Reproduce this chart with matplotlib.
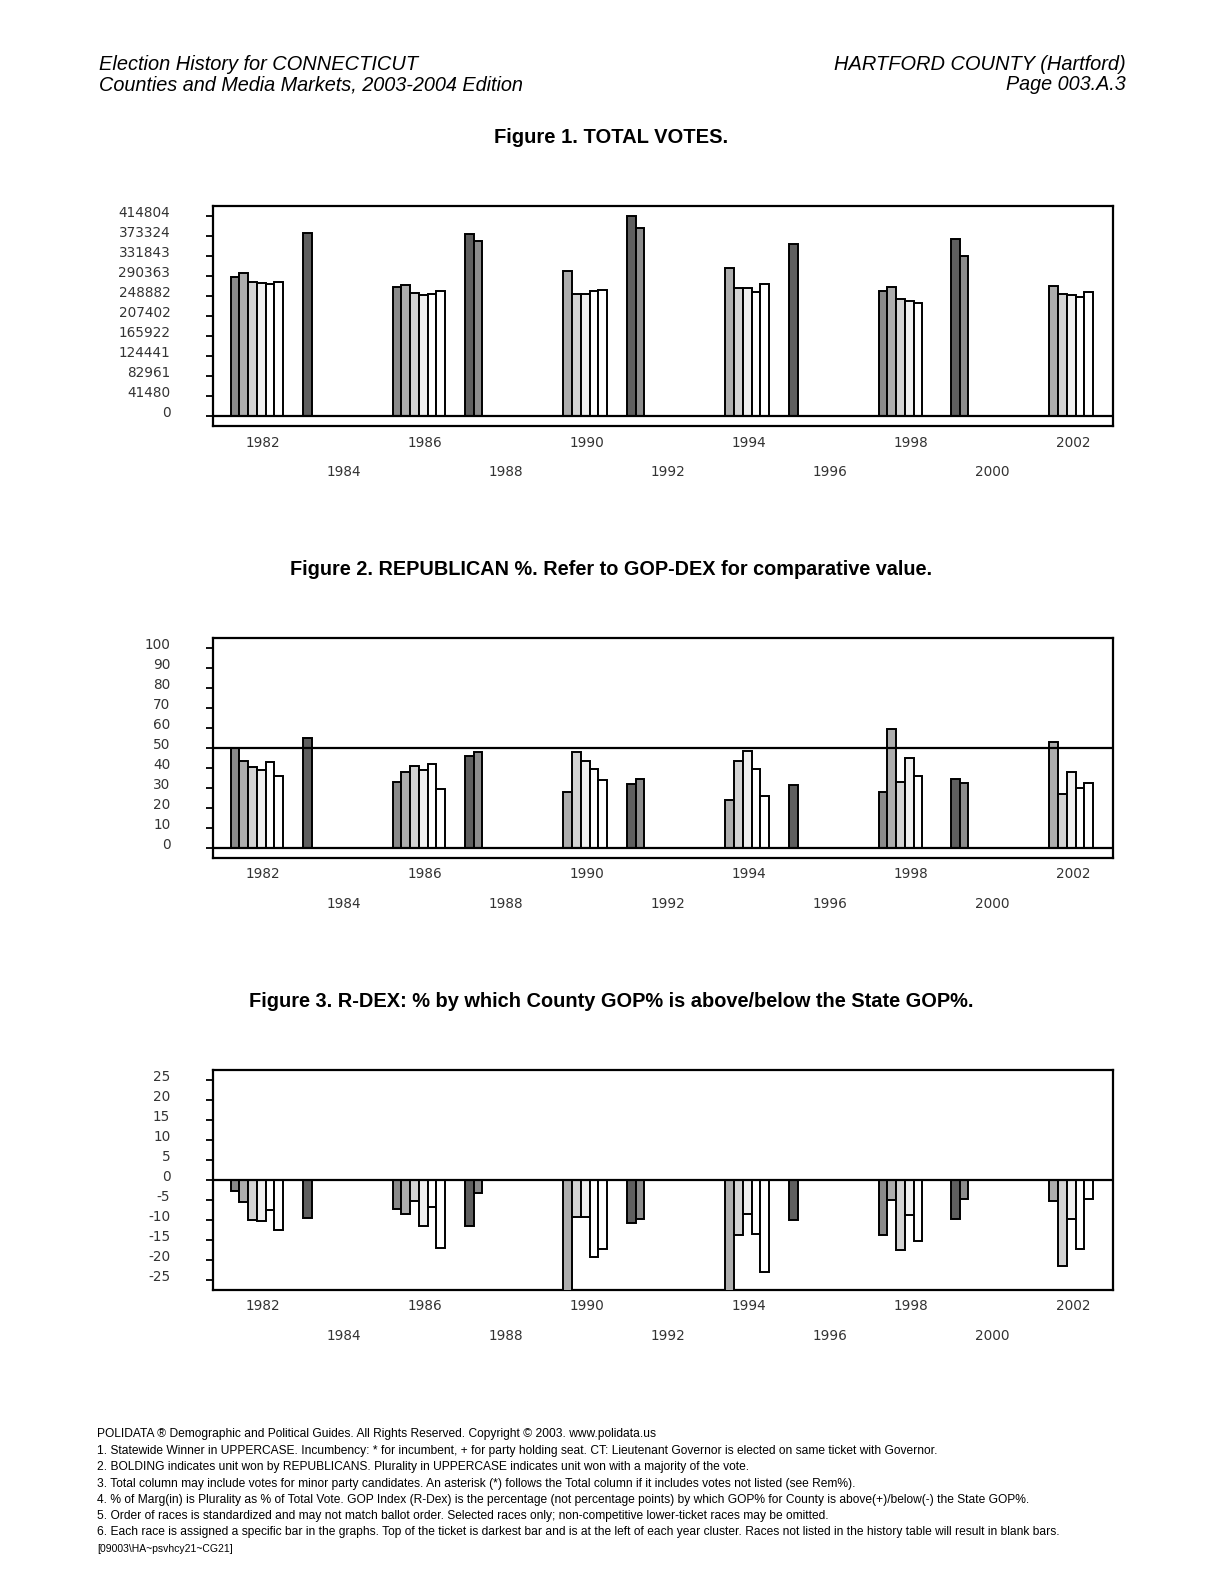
import matplotlib
matplotlib.use('Agg')
import matplotlib.pyplot as plt
from matplotlib import font_manager
from matplotlib.transforms import ScaledTranslation

# ---------------- data ----------------
years = [1982, 1984, 1986, 1988, 1990, 1992, 1994, 1996, 1998, 2000, 2002]
gov_years = [1982, 1986, 1990, 1994, 1998, 2002]
pres_years = [1984, 1988, 1992, 1996, 2000]

# Figure 1: total votes per race slot (None = blank bar)
total_votes = [
    [287700, 296000, 278500, 276500, 274400, 278500],
    [378900],
    [266900, 271100, 255700, 251600, 253700, 258600],
    [376900, 362300],
    [None, 300100, 253000, 253000, 258600, 260700],
    [415500, 390600],
    [None, 307700, 264800, 264800, 257900, 274400],
    [357500],
    [258600, 268200, 242700, 239200, 235100, None],
    [367800, 332500],
    [None, 270300, 253700, 251700, 247500, 256500],
]
votes_ticks = [0, 41480, 82961, 124441, 165922, 207402, 248882, 290363, 331843, 373324, 414804]

# Figure 2: Republican %
gop_pct = [
    [49.7, 43.5, 40.5, 39.0, 42.7, 36.0],
    [55.0],
    [32.7, 37.7, 41.0, 39.0, 42.0, 29.5],
    [46.0, 47.7],
    [None, 27.7, 47.7, 43.2, 39.5, 33.7],
    [32.0, 34.5],
    [None, 23.7, 43.2, 48.5, 39.5, 26.0],
    [31.5],
    [28.0, 59.5, 33.0, 44.7, 36.0, None],
    [34.5, 32.5],
    [None, 53.0, 26.8, 37.7, 30.0, 32.5],
]
pct_ticks = [0, 10, 20, 30, 40, 50, 60, 70, 80, 90, 100]

# Figure 3: R-DEX
rdex = [
    [-2.8, -5.5, -10.0, -10.3, -7.5, -12.5],
    [-9.6],
    [-7.3, -8.6, -5.4, -11.5, -6.9, -17.0],
    [-11.6, -3.3],
    [None, -30.0, -9.4, -9.4, -19.3, -17.4],
    [-10.8, -9.8],
    [None, -30.0, -13.8, -8.6, -13.6, -23.0],
    [-10.0],
    [-13.8, -5.0, -17.6, -8.8, -15.3, None],
    [-9.8, -4.7],
    [None, -5.3, -21.6, -9.8, -17.3, -4.8],
]
rdex_ticks = [-25, -20, -15, -10, -5, 0, 5, 10, 15, 20, 25]

header_left = ["Election History for CONNECTICUT",
               "Counties and Media Markets, 2003-2004 Edition"]
header_right = ["HARTFORD COUNTY (Hartford)", "Page 003.A.3"]
titles = ["Figure 1. TOTAL VOTES.",
          "Figure 2. REPUBLICAN %. Refer to GOP-DEX for comparative value.",
          "Figure 3. R-DEX: % by which County GOP% is above/below the State GOP%."]
footer = [
    "POLIDATA \u00ae Demographic and Political Guides. All Rights Reserved. Copyright \u00a9 2003. www.polidata.us",
    "1. Statewide Winner in UPPERCASE. Incumbency: * for incumbent, + for party holding seat. CT: Lieutenant Governor is elected on same ticket with Governor.",
    "2. BOLDING indicates unit won by REPUBLICANS. Plurality in UPPERCASE indicates unit won with a majority of the vote.",
    "3. Total column may include votes for minor party candidates. An asterisk (*) follows the Total column if it includes votes not listed (see Rem%).",
    "4. % of Marg(in) is Plurality as % of Total Vote. GOP Index (R-Dex) is the percentage (not percentage points) by which GOP% for County is above(+)/below(-) the State GOP%.",
    "5. Order of races is standardized and may not match ballot order. Selected races only; non-competitive lower-ticket races may be omitted.",
    "6. Each race is assigned a specific bar in the graphs. Top of the ticket is darkest bar and is at the left of each year cluster. Races not listed in the history table will result in blank bars.",
    "[09003\\HA~psvhcy21~CG21]",
]

# ---------------- layout / style ----------------
W, H = 1224, 1583
fig = plt.figure(figsize=(W / 100, H / 100), dpi=100)
renderer = fig.canvas.get_renderer()

names = {f.name for f in font_manager.fontManager.ttflist}
NARROW = 'Liberation Sans Narrow' if 'Liberation Sans Narrow' in names else 'Liberation Sans'
TICKFONT = 'DejaVu Sans'

GOV_COLORS = ['#8a8a8a', '#adadad', '#d3d3d3', '#efefef', '#ffffff', '#ffffff']
PRES_COLORS = ['#5f5f5f', '#8c8c8c']
GOV_START = -0.797
PRES_START = -1.015
SLOT_W = 0.2153
PX_PER_YEAR = 40.5
X_LEFT = 1982 + (212.7 - 263.0) / PX_PER_YEAR
X_RIGHT = 1982 + (1112.7 - 263.0) / PX_PER_YEAR


def make_ax(top_px, bottom_px):
    return fig.add_axes([212.7 / W, 1 - bottom_px / H, 900 / W, (bottom_px - top_px) / H])


def draw_bars(ax, values):
    for yr, vals in zip(years, values):
        is_gov = yr in gov_years
        start = yr + (GOV_START if is_gov else PRES_START)
        colors = GOV_COLORS if is_gov else PRES_COLORS
        for i, v in enumerate(vals):
            if v is None:
                continue
            ax.bar(start + i * SLOT_W, v, width=SLOT_W, align='edge',
                   color=colors[i], edgecolor='black', linewidth=1.4, zorder=3)


def style_ax(ax, ticks, ticklabels, ylim, hlines):
    ax.set_xlim(X_LEFT, X_RIGHT)
    ax.set_ylim(*ylim)
    for s in ax.spines.values():
        s.set_linewidth(1.6)
    for h in hlines:
        ax.axhline(h, color='black', linewidth=1.6, zorder=4)
    ax.set_yticks(ticks)
    ax.set_yticklabels(ticklabels, fontfamily=TICKFONT, fontsize=9.8, color='#333333')
    ax.tick_params(axis='y', direction='out', length=5, width=1.3, pad=25.5)
    off = ScaledTranslation(0, 4 / 100, fig.dpi_scale_trans)
    for lab in ax.get_yticklabels():
        lab.set_transform(lab.get_transform() + off)
    ax.set_xticks(gov_years)
    ax.set_xticklabels([str(y) for y in gov_years], fontfamily=TICKFONT,
                       fontsize=9.8, color='#333333')
    ax.set_xticks(pres_years, minor=True)
    ax.set_xticklabels([str(y) for y in pres_years], minor=True,
                       fontfamily=TICKFONT, fontsize=9.8, color='#333333')
    ax.tick_params(axis='x', which='major', length=0, pad=7)
    ax.tick_params(axis='x', which='minor', length=0, pad=28)


ax1 = make_ax(205.7, 426.0)
draw_bars(ax1, total_votes)
style_ax(ax1, votes_ticks, [str(t) for t in votes_ticks], (-20740, 436160), [0])

ax2 = make_ax(637.7, 857.7)
draw_bars(ax2, gop_pct)
style_ax(ax2, pct_ticks, [str(t) for t in pct_ticks], (-5, 105), [0, 50])

ax3 = make_ax(1069.7, 1289.7)
draw_bars(ax3, rdex)
style_ax(ax3, rdex_ticks, [str(t) for t in rdex_ticks], (-27.5, 27.5), [0])


def fit_text(x, y, s, target, ha='left', **kw):
    t = fig.text(x / W, 1 - y / H, s, ha=ha, va='center', fontsize=10, **kw)
    w = t.get_window_extent(renderer).width
    t.set_fontsize(10 * target / w)
    return t


# header
fit_text(99, 65, header_left[0], 320, family='Liberation Sans', style='italic')
fit_text(99, 85, header_left[1], 427, family='Liberation Sans', style='italic')
fit_text(1126, 65, header_right[0], 291, ha='right', family='Liberation Sans', style='italic')
fit_text(1126, 85, header_right[1], 120, ha='right', family='Liberation Sans', style='italic')

# titles
for (yc, wpx), s in zip([(137.3, 234), (569.6, 644), (1001.8, 726)], titles):
    fit_text(611, yc, s, wpx, ha='center', family=NARROW, weight='bold')

# footer
foot_y = [1434, 1451, 1467.4, 1483.6, 1499.7, 1515.9, 1532, 1549.2]
foot_w = [562, 840, 652, 760, 932, 732, 961, 135]
for yc, wpx, s in zip(foot_y, foot_w, footer):
    fit_text(97, yc, s, wpx, family=NARROW)

fig.savefig('out.png', dpi=100)
